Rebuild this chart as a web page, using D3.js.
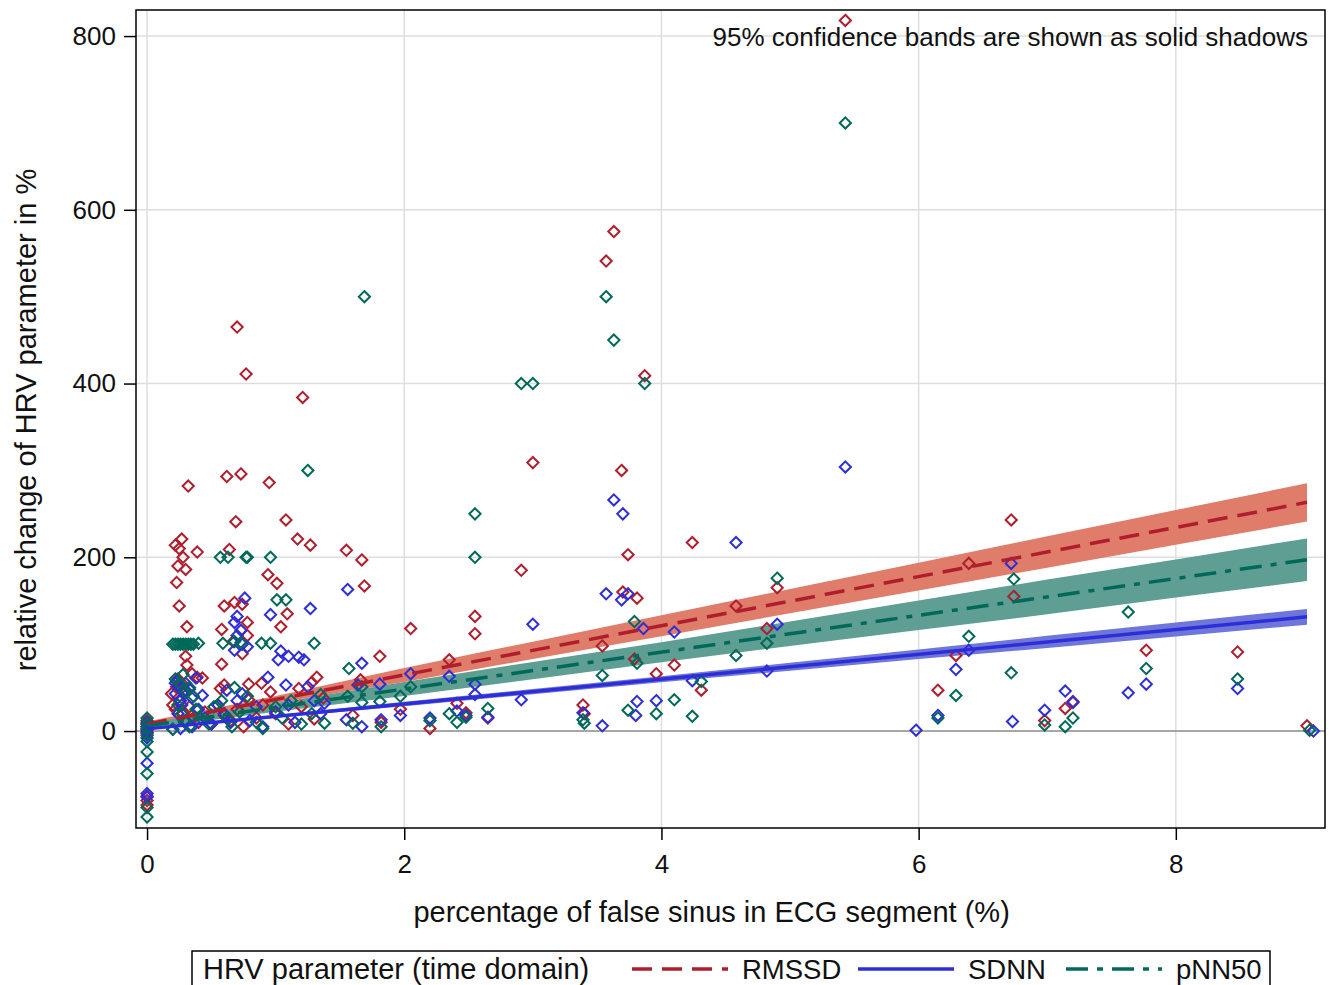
<!DOCTYPE html>
<html lang="en">
<head>
<meta charset="UTF-8">
<title>HRV change vs false sinus</title>
<script src="https://d3js.org/d3.v7.min.js"></script>
<style>
  body { margin: 0; background: #fff; }
  text { font-family: "Liberation Sans", Arial, sans-serif; fill: #111; }
</style>
</head>
<body>
<script>
// scatter values: [percentage false sinus, relative change %]
const rmssdPts = [
  [0,12],[0,8],[0,5],[0,0],[0,-3],[0,-75],[0,-80],[0,-85],
  [0.27,221],[0.22,214],[0.25,210],[0.28,200],[0.24,190],[0.30,186],[0.23,171],[0.25,144],[0.39,206],[0.31,120],[0.32,282],
  [0.64,209],[0.62,293],[0.73,296],[0.95,286],[0.69,241],[0.70,465],[0.77,411],[1.21,384],[1.08,243],[1.17,221],[1.27,214],
  [0.94,180],[1.01,170],[1.09,135],[1.04,120],[0.60,144],[0.68,148],[0.74,146],[0.78,125],[0.78,110],[0.58,117],[0.74,89],
  [0.67,103],[0.58,77],[0.30,86],[0.31,76],[0.35,66],[0.39,62],[0.43,61],[1.32,62],[1.28,56],[0.89,55],[0.96,45],[0.79,54],
  [0.60,53],[1.18,49],[0.19,43],[1.37,38],[0.23,51],[0.79,36],[0.57,49],
  [0.20,30],[0.22,25],[0.25,35],[0.28,20],[0.30,45],[0.33,28],[0.36,15],[0.40,10],[0.45,22],[0.50,8],[0.55,30],[0.60,18],
  [0.65,12],[0.70,25],[0.75,5],[0.85,15],[0.90,30],[1.00,20],[1.10,8],[1.20,28],[1.30,14],[0.24,60],[0.27,55],[0.26,48],
  [1.55,208],[1.67,197],[1.69,167],[2.05,118],[1.81,86],[2.55,132],[2.55,112],[2.91,185],[2.35,82],[1.66,59],[1.60,18],
  [1.82,10],[1.97,25],[2.41,32],[2.48,21],[2.65,15],[2.20,3],[3.00,309],[3.57,541],[3.63,575],[3.87,409],[3.69,300],
  [3.74,203],[3.70,160],[3.81,153],[3.54,98],[3.79,83],[4.10,76],[3.96,66],[4.31,47],[3.39,30],[3.40,20],[4.24,217],
  [4.58,144],[4.90,165],[4.82,118],[5.43,818],
  [6.72,243],[6.39,193],[6.74,155],[6.29,87],[6.15,47],[6.98,12],[7.14,26],[7.20,34],[7.77,93],[8.48,91],[9.02,6]
];
const sdnnPts = [
  [0,10],[0,5],[0,2],[0,-2],[0,-8],[0,-37],[0,-72],[0,-76],
  [0.76,153],[1.27,141],[0.96,134],[0.70,132],[0.68,125],[0.73,116],[0.70,110],[0.68,93],[0.74,100],[0.78,97],[1.04,92],
  [1.02,82],[1.10,86],[1.18,85],[1.22,82],[0.94,62],[1.08,53],[1.25,51],[0.62,47],[0.74,43],
  [0.23,57],[0.25,52],[0.30,47],[0.38,61],[0.43,41],[0.22,43],[0.26,35],
  [0.22,55],[0.28,45],[0.30,55],[0.33,48],[0.35,38],[0.27,30],[0.24,20],[0.30,12],[0.35,5],[0.40,25],[0.45,15],[0.50,8],
  [0.55,30],[0.60,20],[0.65,10],[0.70,35],[0.80,12],[0.85,28],[0.90,5],[1.00,22],[1.10,30],[1.15,10],[1.30,35],[1.35,20],
  [0.20,2],[0.26,3],
  [1.56,163],[1.67,78],[2.05,66],[1.64,53],[1.81,54],[2.35,63],[2.55,54],[2.55,42],[2.91,36],[1.38,32],[1.97,18],[2.41,23],
  [2.48,18],[2.65,16],[2.20,15],[1.55,13],[1.67,5],[1.82,13],[3.00,123],[3.63,266],[3.70,250],[3.57,158],[3.74,158],
  [3.69,151],[3.86,118],[4.10,114],[4.90,123],[4.82,69],[4.24,58],[3.81,34],[3.80,18],[3.96,35],[3.39,21],[3.54,6],
  [4.58,217],[5.43,304],
  [6.72,193],[6.39,93],[6.29,71],[6.15,18],[5.98,1],[6.73,11],[6.98,24],[7.14,46],[7.20,33],[7.63,44],[7.77,54],[8.48,49],[9.07,0]
];
const pnn50Pts = [
  [0,15],[0,8],[0,3],[0,-5],[0,-12],[0,-24],[0,-49],[0,-88],[0,-99],
  [0.20,100],[0.22,100],[0.24,100],[0.26,100],[0.28,100],[0.30,100],[0.32,100],[0.34,100],[0.36,100],[0.40,101],[0.59,101],
  [0.68,103],[0.73,102],[0.89,101],[0.96,101],[1.30,101],
  [0.57,200],[0.63,200],[0.77,200],[0.78,200],[0.96,200],[1.25,300],[1.01,151],[1.08,151],[0.68,50],
  [0.22,60],[0.25,55],[0.28,65],[0.30,45],[0.33,50],[0.36,40],[0.24,30],[0.27,20],[0.30,10],[0.33,5],[0.38,25],[0.42,15],
  [0.48,8],[0.52,28],[0.58,35],[0.62,15],[0.66,5],[0.72,22],[0.78,40],[0.85,10],[0.90,3],[1.00,28],[1.05,15],[1.12,35],
  [1.20,8],[1.28,20],[1.35,42],[0.20,2],
  [1.69,500],[2.55,250],[2.55,200],[1.57,72],[1.67,51],[2.05,51],[1.56,40],[1.97,40],[1.81,34],[1.67,33],[2.65,26],[2.48,16],
  [2.35,20],[2.41,10],[2.20,12],[1.60,9],[1.38,9],[1.82,5],[2.91,400],[3.00,400],[3.57,500],[3.63,450],[3.87,400],[3.79,126],
  [4.82,101],[4.58,87],[3.81,78],[3.54,64],[4.31,57],[3.74,24],[3.96,20],[4.10,36],[4.24,17],[3.39,13],[3.40,9],[4.90,176],
  [5.43,700],
  [6.74,175],[6.39,109],[6.72,67],[6.29,41],[6.15,15],[6.98,7],[7.14,5],[7.20,15],[7.63,137],[7.77,72],[8.48,60],[9.04,1]
];

// regression fits
const seriesNames = ["RMSSD", "SDNN", "pNN50"];
const fitIntercept = [8, 2.5, 6];
const fitSlope = [28.3, 14.3, 21.2];
const fitEnd = 9.02;
// half width of the 95% band at these x values
const bandX = [0, 1, 2, 3, 4, 5, 6, 7, 8, 9.02];
const bandHalfRmssd = [3, 4, 8, 10, 12, 14, 16, 18, 20, 22];
const bandHalfSdnn = [1, 1.5, 2.5, 3, 3.5, 4.5, 5.5, 7, 8, 9];
const bandHalfPnn50 = [3, 5, 8, 10, 11.5, 14, 17, 20, 22, 24.5];

const xTicks = [0, 2, 4, 6, 8];
const yTicks = [0, 200, 400, 600, 800];

const lineColor = ["#B01E2E", "#2E2ED8", "#00695A"];
const bandColor = ["#E07C6A", "#6E76DA", "#5E9E93"];
const dashes = ["20,10", null, "22,9,6,9"];

const W = 1330, H = 985;
const mLeft = 136, mRight = 1325, mTop = 10, mBottom = 828;

const svg = d3.select("body").append("svg")
  .attr("width", W).attr("height", H);

const x = d3.scaleLinear().domain([-0.086, 9.16]).range([mLeft, mRight]);
const y = d3.scaleLinear().domain([-111.6, 830]).range([mBottom, mTop]);

// grid
svg.append("g").selectAll("line").data(xTicks).join("line")
  .attr("x1", d => x(d)).attr("x2", d => x(d))
  .attr("y1", mTop).attr("y2", mBottom)
  .attr("stroke", "#dedede").attr("stroke-width", 1.5);
svg.append("g").selectAll("line").data(yTicks.filter(d => d !== 0)).join("line")
  .attr("x1", mLeft).attr("x2", mRight)
  .attr("y1", d => y(d)).attr("y2", d => y(d))
  .attr("stroke", "#dedede").attr("stroke-width", 1.5);

// confidence bands
const bands = [bandHalfRmssd, bandHalfSdnn, bandHalfPnn50];
const area = d3.area()
  .x(d => x(d.x))
  .y0(d => y(d.lo))
  .y1(d => y(d.hi));
[0, 2, 1].forEach(i => {
  const pts = bandX.map((bx, k) => {
    const m = fitIntercept[i] + fitSlope[i] * bx;
    return { x: bx, lo: m - bands[i][k], hi: m + bands[i][k] };
  });
  svg.append("path").attr("d", area(pts)).attr("fill", bandColor[i]);
});

// reference line at 0
svg.append("line")
  .attr("x1", mLeft).attr("x2", mRight)
  .attr("y1", y(0)).attr("y2", y(0))
  .attr("stroke", "#8a8a8a").attr("stroke-width", 1.5);

// markers
const diamond = d3.symbol().type(d3.symbolDiamond2).size(80);
const allPts = [rmssdPts, sdnnPts, pnn50Pts];
allPts.forEach((pts, i) => {
  svg.append("g").selectAll("path").data(pts).join("path")
    .attr("d", diamond)
    .attr("transform", d => `translate(${x(d[0])},${y(d[1])})`)
    .attr("fill", "none")
    .attr("stroke", lineColor[i])
    .attr("stroke-width", 2);
});

// fit lines
[0, 2, 1].forEach(i => {
  svg.append("line")
    .attr("x1", x(0)).attr("y1", y(fitIntercept[i]))
    .attr("x2", x(fitEnd)).attr("y2", y(fitIntercept[i] + fitSlope[i] * fitEnd))
    .attr("stroke", lineColor[i])
    .attr("stroke-width", 3.5)
    .attr("stroke-dasharray", dashes[i]);
});

// frame
svg.append("rect")
  .attr("x", mLeft).attr("y", mTop)
  .attr("width", mRight - mLeft).attr("height", mBottom - mTop)
  .attr("fill", "none").attr("stroke", "#000").attr("stroke-width", 1.5);

// axes
const yAxis = svg.append("g")
  .attr("transform", `translate(${mLeft},0)`)
  .call(d3.axisLeft(y).tickValues(yTicks).tickSize(12).tickPadding(8));
const xAxis = svg.append("g")
  .attr("transform", `translate(0,${mBottom})`)
  .call(d3.axisBottom(x).tickValues(xTicks).tickSize(12).tickPadding(15));
[xAxis, yAxis].forEach(a => {
  a.select(".domain").remove();
  a.selectAll(".tick line").attr("stroke", "#000").attr("stroke-width", 1.5);
  a.selectAll(".tick text").attr("font-size", 26)
    .attr("font-family", "Liberation Sans, Arial, sans-serif").attr("fill", "#111");
});

// titles
svg.append("text")
  .attr("x", x(4.39)).attr("y", 922)
  .attr("text-anchor", "middle").attr("font-size", 29)
  .text("percentage of false sinus in ECG segment (%)");
svg.append("text")
  .attr("transform", `translate(36,420) rotate(-90)`)
  .attr("text-anchor", "middle").attr("font-size", 29)
  .text("relative change of HRV parameter in %");
svg.append("text")
  .attr("x", 1308).attr("y", 46)
  .attr("text-anchor", "end").attr("font-size", 26)
  .text("95% confidence bands are shown as solid shadows");

// legend
const leg = svg.append("g");
leg.append("rect")
  .attr("x", 192).attr("y", 951).attr("width", 1078).attr("height", 50)
  .attr("fill", "#fff").attr("stroke", "#000").attr("stroke-width", 1.5);
leg.append("text")
  .attr("x", 203).attr("y", 979).attr("font-size", 29)
  .text("HRV parameter (time domain)");
const legX = [632, 858, 1066];
seriesNames.forEach((name, i) => {
  leg.append("line")
    .attr("x1", legX[i]).attr("x2", legX[i] + 96)
    .attr("y1", 969).attr("y2", 969)
    .attr("stroke", lineColor[i]).attr("stroke-width", 3.5)
    .attr("stroke-dasharray", dashes[i]);
  leg.append("text")
    .attr("x", legX[i] + 110).attr("y", 979).attr("font-size", 27.5)
    .text(name);
});
</script>
</body>
</html>
